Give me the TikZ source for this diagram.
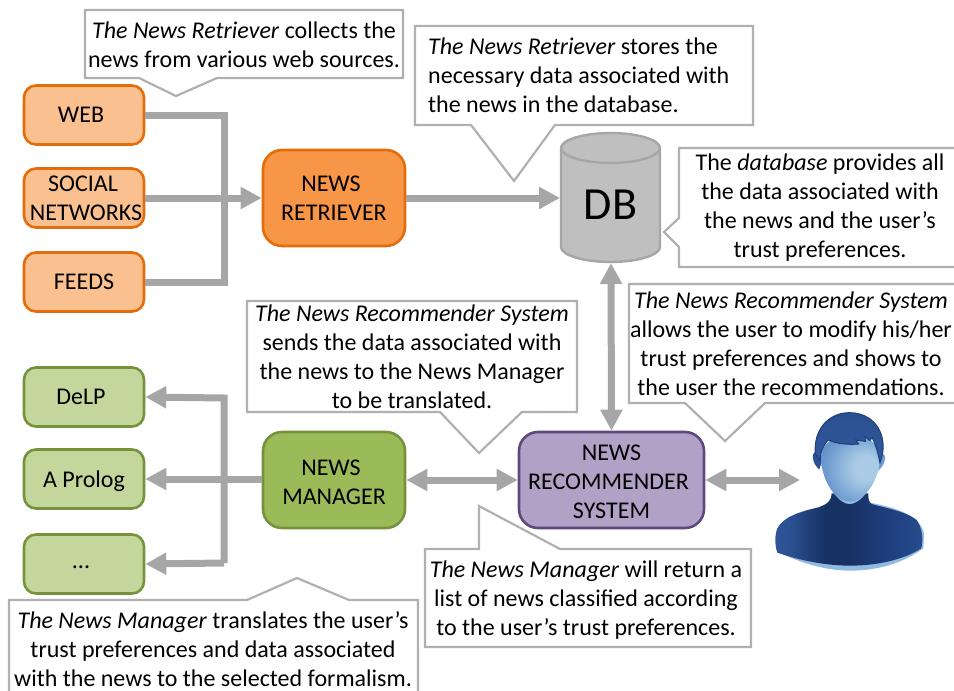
\documentclass[tikz,border=0pt]{standalone}
\usepackage{fontspec}
\setmainfont{Carlito}
\usetikzlibrary{arrows.meta}
\definecolor{lineGray}{HTML}{A6A6A6}
\definecolor{calloutGray}{HTML}{B0B0B0}
\definecolor{dbFill}{HTML}{BFBFBF}
\definecolor{orangeDark}{HTML}{E46C0A}
\definecolor{orangeMid}{HTML}{F79646}
\definecolor{orangeLight}{HTML}{FAC090}
\definecolor{greenDark}{HTML}{76923C}
\definecolor{greenMid}{HTML}{9BBB59}
\definecolor{greenLight}{HTML}{C3D69B}
\definecolor{purpleFill}{HTML}{B2A1C7}
\definecolor{purpleDark}{HTML}{5F497A}
\definecolor{skinLight}{HTML}{A9CBE5}
\definecolor{skinMid}{HTML}{6E9BD0}
\definecolor{skinDark}{HTML}{3F6DB3}
\definecolor{rim}{HTML}{8FBBE3}
\definecolor{hairTop}{HTML}{2B5092}
\definecolor{hairEdge}{HTML}{1D3D7C}
\pgfdeclarehorizontalshading{bodyshade}{100bp}{
  color(0bp)=(skinDark); color(30bp)=(hairTop); color(42bp)=(hairEdge!80!black);
  color(50bp)=(hairEdge!80!black); color(62bp)=(hairEdge); color(78bp)=(hairTop); color(100bp)=(skinDark)}
\pgfdeclareradialshading{faceshade}{\pgfpoint{16bp}{2bp}}{
  color(0bp)=(skinLight); color(10bp)=(skinLight); color(28bp)=(skinMid); color(50bp)=(skinDark)}
\tikzset{
  x=1pt,y=-1pt,
  every node/.style={font=\fontsize{24}{29}\selectfont,align=center,inner sep=0pt,text=black},
  smallbox/.style={draw,line width=2.6pt,rounded corners=12pt,minimum width=120pt,minimum height=59pt,text depth=0pt},
  bigbox/.style={draw,line width=2.6pt,rounded corners=19pt,minimum height=96pt,text depth=0pt},
  srcbox/.style={smallbox,fill=orangeLight,draw=orangeDark},
  fmtbox/.style={smallbox,fill=greenLight,draw=greenDark},
  flow/.style={draw=lineGray,line width=7pt},
  flowto/.style={flow,-{Triangle[length=21pt,width=21pt]}},
  flowboth/.style={flow,{Triangle[length=21pt,width=21pt]}-{Triangle[length=21pt,width=21pt]}},
  callout/.style={draw=calloutGray,line width=2.2pt,fill=white,line join=miter},
}
\begin{document}
\begin{tikzpicture}
\useasboundingbox (0,0) rectangle (954,691);
% boxes
\node[srcbox] (web) at (84,115) {\hspace*{-6pt}WEB};
\node[srcbox] (social) at (84,198) {\hspace*{-2pt}SOCIAL\\\hspace*{4pt}NETWORKS};
\node[srcbox] (feeds) at (84,282) {FEEDS};
\node[bigbox,fill=orangeMid,draw=orangeDark,minimum width=142pt] (retriever) at (334,198) {\hspace*{-6pt}NEWS\\RETRIEVER};
\node[fmtbox] (delp) at (84,397) {\hspace*{-6pt}DeLP};
\node[fmtbox] (prolog) at (84,479) {A Prolog};
\node[fmtbox] (etc) at (84,564) {\hspace*{-6pt}\raisebox{-4pt}{...}};
\node[bigbox,fill=greenMid,draw=greenDark,minimum width=142pt] (manager) at (334,480) {\hspace*{-6pt}NEWS\rule{0pt}{19pt}\\MANAGER};
\node[bigbox,fill=purpleFill,draw=purpleDark,minimum width=185pt] (recommender) at (611.5,480) {NEWS\rule{0pt}{19pt}\\\hspace*{-6pt}RECOMMENDER\\SYSTEM};
% database
\draw[fill=dbFill,draw=lineGray,line width=2.4pt] (561,148) -- (561,247) .. controls (561,255) and (583,262) .. (610.5,262) .. controls (638,262) and (660,255) .. (660,247) -- (660,148) .. controls (660,140) and (638,133) .. (610.5,133) .. controls (583,133) and (561,140) .. (561,148) -- cycle;
\draw[draw=lineGray,line width=2.4pt] (561,148) .. controls (561,156) and (583,163) .. (610.5,163) .. controls (638,163) and (660,156) .. (660,148);
\node[font=\fontsize{46}{50}\selectfont] (db) at (610.5,205) {DB};
\coordinate (dbW) at (560,198);
\coordinate (dbS) at (611,263);
\coordinate (userW) at (800,480);
\coordinate (inTop) at (224,115);
\coordinate (inBot) at (224,282);
\coordinate (outTop) at (224,398);
\coordinate (outBot) at (224,563);
% connectors
\draw[flow] (web.east) -- (inTop) -- (inBot) -- (feeds.east);
\draw[flowto] (social.east) -- (retriever.west);
\draw[flowto] (retriever.east) -- (dbW);
\draw[flowboth] (dbS) -- (recommender.north);
\draw[flowboth] (manager.east) -- (recommender.west);
\draw[flowboth] (recommender.east) -- (userW);
\draw[flowto] (outBot) -- (outTop) -- (delp.east);
\draw[flowto] (manager.west |- prolog.east) -- (prolog.east);
\draw[flowto] (outBot) -- (etc.east);
% callouts
\draw[callout] (85,10) -- (403,10) -- (403,78) -- (217,78) -- (176,96) -- (139,78) -- (85,78) -- cycle;
\node (c1) at (244,44.5) {\textit{The News Retriever} collects the\\news from various web sources.};
\draw[callout] (415,26) -- (753,26) -- (753,125) -- (555,125) -- (514,181) -- (471,125) -- (415,125) -- cycle;
\node[align=left,anchor=west] (c2) at (428,75.5) {\textit{The News Retriever} stores the\\necessary data associated with\\the news in the database.};
\draw[callout] (679,148) -- (960,148) -- (960,267) -- (679,267) -- (679,247) -- (664,232) -- (679,218) -- cycle;
\node (c3) at (820,208) {The \textit{database} provides all\\the data associated with\\the news and the user’s\\trust preferences.};
\draw[callout] (247,301) -- (577,301) -- (577,412) -- (522,412) -- (479,453) -- (440,412) -- (247,412) -- cycle;
\node (c4) at (412,357) {\textit{The News Recommender System}\\sends the data associated with\\the news to the News Manager\\to be translated.};
\draw[callout] (629,284) -- (960,284) -- (960,403) -- (765,403) -- (725,441) -- (685,403) -- (629,403) -- cycle;
\node (c5) at (791,344) {\textit{The News Recommender System}\\allows the user to modify his/her\\trust preferences and shows to\\the user the recommendations.};
\draw[callout] (425,549) -- (479,549) -- (479,506) -- (560,549) -- (751,549) -- (751,647) -- (425,647) -- cycle;
\node (c6) at (586,600) {\textit{The News Manager} will return a\\list of news classified according\\to the user’s trust preferences.};
\draw[callout] (9,600) -- (247,600) -- (297,578) -- (349,600) -- (418,600) -- (418,700) -- (9,700) -- cycle;
\node (c7) at (213,649) {\textit{The News Manager} translates the user’s\\trust preferences and data associated\\with the news to the selected formalism.};
% user icon, drawn in the coordinates of a 3x enlargement
\begin{scope}[shift={(760,400)},x=0.3333pt,y=-0.3333pt]
  \fill[rim] (55,455) .. controls (120,490) and (200,512) .. (270,512) .. controls (350,512) and (430,490) .. (490,445) -- (492,400) .. controls (480,350) and (420,325) .. (330,308) -- (270,400) -- cycle;
  \shade[shading=bodyshade] (215,280) .. controls (215,300) and (205,312) .. (175,322) .. controls (120,335) and (70,350) .. (52,385) .. controls (44,405) and (44,435) .. (52,458) .. controls (120,482) and (200,497) .. (270,497) .. controls (350,497) and (430,480) .. (484,445) .. controls (490,420) and (488,385) .. (470,360) .. controls (440,335) and (380,325) .. (335,312) .. controls (325,305) and (325,295) .. (325,280) -- cycle;
  \fill[hairTop] (165,155) .. controls (155,160) and (155,190) .. (178,208) -- (190,170) -- cycle;
  \fill[skinMid] (368,160) .. controls (382,165) and (375,195) .. (355,212) -- (345,170) -- cycle;
  \fill[rim] (200,240) .. controls (215,280) and (245,312) .. (268,312) .. controls (295,312) and (325,280) .. (340,240) -- cycle;
  \shade[shading=faceshade]
    (183,175) .. controls (185,140) and (205,115) .. (240,115) -- (320,115) .. controls (350,125) and (362,160) .. (358,195) .. controls (350,250) and (310,305) .. (268,305) .. controls (225,305) and (185,240) .. (183,175) -- cycle;
  \shade[top color=hairTop,bottom color=hairTop!70!skinDark,draw=hairEdge,line width=1pt]
    (166,160) .. controls (160,90) and (205,38) .. (268,38) .. controls (335,38) and (378,90) .. (368,160) .. controls (366,170) and (362,180) .. (360,188) .. controls (355,165) and (350,140) .. (336,112) -- (330,122) -- (315,110) -- (316,124) -- (287,120) -- (296,132) .. controls (260,135) and (225,130) .. (205,120) .. controls (190,135) and (180,160) .. (180,182) .. controls (175,175) and (170,168) .. (166,160) -- cycle;
\end{scope}
\end{tikzpicture}
\end{document}
